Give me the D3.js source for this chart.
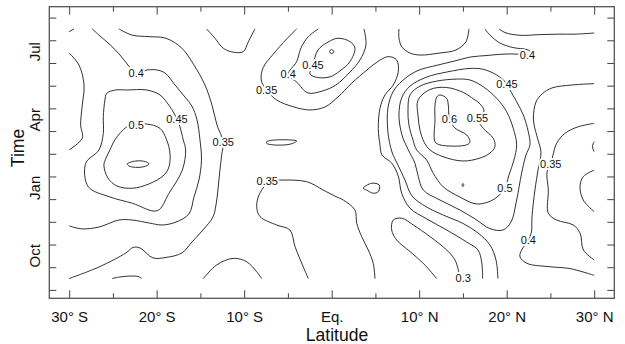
<!DOCTYPE html>
<html>
<head>
<meta charset="utf-8">
<script src="https://cdn.jsdelivr.net/npm/d3@7"></script>
<style>
    body { margin: 0; background: #fff; }
    svg { display: block; font-family: "Liberation Sans", Arial, Helvetica, sans-serif; }
    .contour { fill: none; stroke: #1a1a1a; stroke-width: 0.9px; }
    .clabel { font-size: 11px; fill: #111; stroke: #fff; stroke-width: 4px; stroke-linejoin: round; paint-order: stroke; }
    .axis path { display: none; }
    .axis line { stroke: #444; stroke-width: 1px; }
    .axis text { font-size: 15px; fill: #111; }
</style>
</head>
<body>
<div id="chart"></div>
<script>

/* * * * * * * * * * * * * *
*   contour lines (lat, month)   *
* * * * * * * * * * * * * */

// months run Sep (0) .. Aug (11); latitude in degrees, south negative
const monthNames = ["Sep", "Oct", "Nov", "Dec", "Jan", "Feb", "Mar", "Apr", "May", "Jun", "Jul", "Aug"];
const monthLabelIdx = [1, 4, 7, 10];
const latMajor = [-30, -20, -10, 0, 10, 20, 30];
const latMinor = [-25, -15, -5, 5, 15, 25];
const latLabels = ["30° S", "20° S", "10° S", "Eq.", "10° N", "20° N", "30° N"];

// southern maximum
const sh040Corner = [[-30, 10.88], [-29.45, 11]];
const sh040 = [[-27.36, 11], [-26.48, 10.69], [-25.34, 10.31], [-24.19, 9.85], [-23.28, 9.41], [-22.34, 9.04], [-21.11, 9.19], [-19.97, 9.19], [-19.05, 9.06], [-17.9, 8.53], [-16.77, 8.0], [-15.97, 7.6], [-15.39, 6.99], [-15.05, 6.11], [-14.88, 5.22], [-15.17, 4.34], [-15.74, 3.59], [-16.31, 2.85], [-17.79, 2.49], [-19.39, 2.36], [-20.88, 2.45], [-22.82, 2.58], [-24.31, 2.58], [-26.59, 2.27], [-28.54, 2.19], [-30, 2.32]];
const sh040Edge = [[-30, 9.94], [-28.88, 9.41], [-28.3, 8.53], [-28.5, 7.65], [-28.69, 6.77], [-28.5, 6.19], [-30, 5.67]];
const sh035 = [[-24.31, 11], [-22.82, 10.73], [-20.88, 10.66], [-18.94, 10.59], [-17.11, 10.15], [-15.74, 9.41], [-14.48, 8.53], [-13.68, 7.65], [-13.11, 6.77], [-12.4, 6.03], [-12.57, 5.44], [-12.77, 4.78], [-13.0, 3.9], [-13.22, 3.24], [-13.57, 2.71], [-14.71, 2.14], [-15.97, 1.61], [-17.11, 1.13], [-18.94, 0.93], [-20.42, 0.91], [-21.91, 1.35], [-22.71, 1.37], [-23.51, 1.13], [-26.59, 0.51], [-30, 0]];
const sh045 = [[-17.68, 7.03], [-17.34, 6.69], [-16.96, 6.11], [-16.69, 5.67], [-17.07, 4.78], [-18.59, 3.76], [-19.93, 2.99], [-22.79, 3.32], [-25.45, 3.61], [-27.82, 4.05], [-28.11, 5.08], [-26.59, 5.67], [-26.1, 6.4], [-26.1, 7.13], [-25.91, 7.87], [-25.71, 8.16], [-24.69, 8.31], [-23.43, 8.31], [-21.14, 8.31], [-19.62, 8.09], [-18.48, 7.57], [-18.1, 7.34]];
const sh050 = [[-22.34, 6.77], [-21.14, 6.81], [-19.62, 6.62], [-18.86, 6.11], [-18.48, 5.52], [-18.59, 4.93], [-19.16, 4.56], [-20.88, 4.17], [-22.79, 3.98], [-24.54, 4.08], [-25.57, 4.43], [-26.03, 5.0], [-25.79, 5.31], [-25.34, 5.67], [-24.77, 6.11], [-23.43, 6.68]];
const sh055 = [[-23.36, 5.05], [-22.4, 5.18], [-21.26, 5.15], [-20.88, 5.05], [-21.45, 4.93], [-22.4, 4.9], [-23.16, 4.96]];
const sh030 = [[-25.1, 0], [-24.2, 0.07], [-22.8, 0.11], [-22.1, 0.09], [-21.7, 0]];

// 15S - 5S minima
const s030Top = [[-14.29, 11], [-13.34, 10.59], [-12.39, 10.15], [-11.3, 9.98], [-10.1, 10.0], [-9.53, 10.43], [-8.77, 11]];
const s030Bottom = [[-14.67, 0], [-13.14, 0.6], [-11.25, 0.89], [-9.71, 0.74], [-8.57, 0.3], [-8.0, 0]];
const s030Spot = [[-7.43, 6.03], [-6.29, 6.11], [-4.0, 6.06], [-4.77, 5.92], [-6.67, 5.89], [-7.43, 5.96]];

// equatorial lines
const eq035Low = [[-2.67, 0], [-3.25, 0.52], [-4.19, 1.41], [-4.77, 2.14], [-6.29, 2.36], [-8.19, 2.73], [-8.57, 3.17], [-8.31, 3.68], [-7.62, 4.12], [-7.36, 4.31], [-5.91, 4.34], [-2.86, 4.27], [-0.96, 3.9], [0.49, 3.61], [1.33, 3.46], [2.66, 3.02], [2.86, 2.44], [3.43, 1.85], [4.18, 1.26], [4.75, 0.67], [4.95, 0]];
const eq030Spot = [[3.61, 3.98], [4.57, 4.2], [5.44, 4.12], [5.33, 3.83], [4.75, 3.76], [3.99, 3.9]];
const eq035 = [[-4.0, 11], [-5.14, 10.56], [-6.67, 9.89], [-7.82, 9.3], [-8.05, 8.75], [-7.43, 8.3], [-6.29, 7.87], [-4.39, 7.57], [-2.48, 7.43], [-0.77, 7.56], [0.72, 8.0], [2.32, 8.62], [4.03, 9.19], [5.18, 9.54], [6.47, 9.78], [7.43, 9.63], [7.61, 9.11], [7.04, 8.53], [6.09, 8.09], [5.52, 7.5], [5.33, 6.62], [5.52, 5.89], [5.75, 5.44], [6.86, 5.09], [7.61, 4.52], [8.0, 3.76], [8.95, 3.1], [10.86, 2.63], [13.14, 2.14], [15.43, 1.61], [16.72, 1.26], [17.14, 0.73], [17.26, 0]];
const eq040 = [[-1.53, 11], [-2.67, 10.66], [-3.51, 10.16], [-4.0, 9.56], [-4.96, 9.0], [-4.0, 8.66], [-2.71, 8.18], [-1.11, 8.26], [0.49, 8.53], [2.09, 9.1], [3.23, 9.63], [3.92, 10.29], [3.69, 11]];
const eq045 = [[-2.14, 9.41], [-1.57, 10.07], [-0.42, 10.42], [0.72, 10.59], [2.09, 10.44], [2.66, 10.16], [2.09, 9.56], [0.95, 9.15], [-0.19, 8.89], [-1.57, 8.86], [-2.48, 9.01]];
const eq050 = [[-0.25, 10.0], [0, 10.09], [0.25, 10.0], [0, 9.91]];

// northern maximum
const n035Top = [[7.69, 11], [7.69, 10.6], [8.03, 10.2], [8.95, 9.94], [10.09, 9.85], [12.38, 9.94], [14.2, 10.07], [15.34, 10.43], [15.69, 11]];
const n040 = [[17.52, 11], [18.09, 10.73], [19.23, 10.38], [20.72, 10.18], [22.32, 10.09], [22.89, 9.96], [23.12, 9.83], [22.78, 9.72], [22.38, 9.81], [21.18, 9.89], [19.58, 9.89], [17.75, 9.83], [15.81, 9.76], [14.09, 9.59], [12.15, 9.41], [9.75, 9.15], [8.03, 8.7], [7.0, 8.22], [6.43, 7.52], [6.43, 6.46], [6.89, 5.58], [7.58, 5.0], [8.38, 4.34], [9.18, 3.64], [10.86, 3.15], [12.75, 2.8], [15.0, 2.43], [16.72, 2.01], [18.09, 1.48], [18.78, 0.82], [19.0, 0]];
const n045 = [[20.03, 8.59], [20.38, 8.31], [21.14, 7.79], [21.9, 7.21], [22.47, 6.47], [22.66, 5.89], [22.2, 5.44], [21.71, 4.65], [21.14, 3.46], [20.49, 2.49], [19.58, 2.14], [18.09, 2.2], [16.49, 2.6], [14.66, 3.02], [12.38, 3.46], [10.47, 3.9], [9.9, 4.49], [9.52, 5.08], [8.76, 5.67], [8.03, 6.33], [7.69, 7.21], [8.0, 7.96], [8.95, 8.48], [10.86, 8.88], [13.14, 9.1], [15.81, 9.26], [17.33, 9.22], [18.86, 8.97]];
const n050 = [[19.81, 3.98], [18.89, 3.59], [17.86, 3.37], [16.49, 3.29], [14.66, 3.59], [12.75, 4.04], [11.61, 4.64], [10.86, 5.22], [9.71, 5.67], [9.29, 6.11], [8.83, 6.77], [8.72, 7.43], [8.95, 8.09], [10.09, 8.48], [12.0, 8.7], [14.29, 8.79], [15.81, 8.75], [17.33, 8.45], [18.86, 7.94], [20.0, 7.35], [20.75, 6.62], [21.14, 5.89], [20.83, 5.22], [20.26, 4.56]];
const n055 = [[16.66, 7.06], [17.33, 6.62], [18.47, 6.18], [18.66, 5.81], [18.09, 5.53], [16.95, 5.31], [15.0, 5.18], [12.72, 5.37], [11.23, 5.67], [10.55, 6.02], [10.09, 6.55], [9.86, 7.21], [9.86, 7.86], [11.23, 8.33], [13.14, 8.42], [15.04, 8.2], [16.26, 7.9], [16.95, 7.7], [17.41, 7.38]];
const n060 = [[13.46, 7.03], [14.09, 6.63], [15.43, 6.33], [15.81, 6.03], [15.43, 5.89], [12.38, 5.89], [11.81, 6.03], [11.81, 6.99], [11.81, 7.65], [12.03, 8.01], [12.38, 8.09], [13.14, 7.94], [13.33, 7.65]];
const n055Spot = [[14.9, 4.12], [15, 4.19], [15.1, 4.12], [15, 4.05]];
const n040Top = [[19.14, 11], [19.81, 10.84], [21.52, 10.72], [23.81, 10.75], [25.86, 10.77], [27.81, 10.77], [30, 10.82]];
const n040Right = [[30, 8.59], [27.46, 8.53], [25.18, 8.4], [24.03, 8.13], [23.35, 7.78], [23.06, 6.99], [23.58, 6.11], [23.92, 5.57], [23.58, 4.78], [23.23, 3.9], [22.89, 2.71], [22.83, 2.05], [22.47, 1.68], [21.71, 1.26], [21.52, 0.96], [22.32, 0.67], [24.95, 0.52], [27.23, 0.44], [30, 0.14]];
const n035Right = [[30, 6.84], [28.18, 6.69], [26.66, 6.4], [25.71, 5.96], [25.29, 5.44], [25.04, 5.06], [24.61, 4.7], [24.76, 3.9], [24.76, 2.88], [25.71, 2.58], [27.62, 2.36], [28.39, 2.0], [28.77, 1.26], [30, 0.82]];
const n030Right = [[30, 4.78], [28.75, 4.49], [28.38, 4.05], [28.75, 3.46], [30, 2.95]];
const n030Edge = [[30, 6.03], [29.8, 5.82], [30, 5.59]];
const n030 = [[12.0, 0], [10.47, 0.67], [8.95, 1.19], [7.43, 1.7], [6.86, 2.14], [7.04, 2.58], [8.0, 2.66], [9.33, 2.36], [11.23, 1.85], [13.14, 1.26], [14.09, 0.82], [14.47, 0.38], [14.66, 0]];

// open lines end on the data border, the rest are closed loops
const openLines = [sh040Corner, sh040, sh040Edge, sh035, sh030, s030Top, s030Bottom, eq035Low, eq035, eq040,
    n035Top, n040, n040Top, n040Right, n035Right, n030Right, n030Edge, n030];
const closedLines = [sh045, sh050, sh055, s030Spot, eq030Spot, eq045, eq050, n045, n050, n055, n060, n055Spot];

// contour labels: [value, lat, month]
const contourLabels = [
    [0.4, -22.34, 9.04], [0.45, -17.68, 7.03], [0.5, -22.34, 6.77], [0.35, -12.4, 6.03],
    [0.35, -7.43, 8.3], [0.4, -4.96, 9.0], [0.45, -2.14, 9.41], [0.35, -7.36, 4.31],
    [0.4, 22.38, 9.83], [0.45, 20.03, 8.59], [0.6, 13.46, 7.03], [0.55, 16.66, 7.06],
    [0.5, 19.81, 3.98], [0.35, 25.04, 5.06], [0.4, 22.47, 1.68], [0.3, 15.04, 0.01]
];


/* * * * * * * * * * * * * *
*          drawing          *
* * * * * * * * * * * * * */

const width = 625, height = 344;
const plot = {left: 49.3, right: 614.3, top: 6.7, bottom: 298.3};

let svg = d3.select("#chart").append("svg")
    .attr("width", width)
    .attr("height", height);

let x = d3.scaleLinear()
    .domain([-32.27, 32.3])
    .range([plot.left, plot.right]);

let y = d3.scaleLinear()
    .domain([-0.87, 11.98])
    .range([plot.bottom, plot.top]);

// contour lines
let line = d3.line()
    .x(d => x(d[0]))
    .y(d => y(d[1]))
    .curve(d3.curveCatmullRom);

let loop = d3.line()
    .x(d => x(d[0]))
    .y(d => y(d[1]))
    .curve(d3.curveCatmullRomClosed);

svg.append("g").selectAll("path.open")
    .data(openLines)
    .enter().append("path")
    .attr("class", "contour open")
    .attr("d", line);

svg.append("g").selectAll("path.closed")
    .data(closedLines)
    .enter().append("path")
    .attr("class", "contour closed")
    .attr("d", loop);

// labels sit on top of the lines, white halo breaks the line
svg.append("g").selectAll("text")
    .data(contourLabels)
    .enter().append("text")
    .attr("class", "clabel")
    .attr("x", d => x(d[1]))
    .attr("y", d => y(d[2]))
    .attr("dy", "0.36em")
    .attr("text-anchor", "middle")
    .text(d => d[0]);

// ticks, all pointing inwards
let halfMonths = d3.range(-0.5, 12, 1);

svg.append("g").attr("class", "axis")
    .attr("transform", `translate(0, ${plot.bottom})`)
    .call(d3.axisBottom(x).tickValues(latMajor).tickSize(-8).tickPadding(13)
        .tickFormat((d, i) => latLabels[i]));

svg.append("g").attr("class", "axis")
    .attr("transform", `translate(0, ${plot.bottom})`)
    .call(d3.axisBottom(x).tickValues(latMinor).tickSize(-5).tickFormat(""));

svg.append("g").attr("class", "axis")
    .attr("transform", `translate(0, ${plot.top})`)
    .call(d3.axisTop(x).tickValues(latMajor).tickSize(-8).tickFormat(""));

svg.append("g").attr("class", "axis")
    .attr("transform", `translate(0, ${plot.top})`)
    .call(d3.axisTop(x).tickValues(latMinor).tickSize(-5).tickFormat(""));

svg.append("g").attr("class", "axis")
    .attr("transform", `translate(${plot.left}, 0)`)
    .call(d3.axisLeft(y).tickValues(halfMonths).tickSize(-7).tickFormat(""));

svg.append("g").attr("class", "axis")
    .attr("transform", `translate(${plot.right}, 0)`)
    .call(d3.axisRight(y).tickValues(halfMonths).tickSize(-7).tickFormat(""));

// month names, turned on their side
svg.append("g").selectAll("text")
    .data(monthLabelIdx)
    .enter().append("text")
    .attr("transform", d => `translate(39.5, ${y(d)}) rotate(-90)`)
    .attr("text-anchor", "middle")
    .attr("font-size", "15px")
    .attr("fill", "#111")
    .text(d => monthNames[d]);

// frame
svg.append("rect")
    .attr("x", plot.left)
    .attr("y", plot.top)
    .attr("width", plot.right - plot.left)
    .attr("height", plot.bottom - plot.top)
    .attr("fill", "none")
    .attr("stroke", "#555")
    .attr("stroke-width", 1.3);

// axis titles
svg.append("text")
    .attr("x", 337)
    .attr("y", 341)
    .attr("text-anchor", "middle")
    .attr("font-size", "17.5px")
    .attr("fill", "#111")
    .text("Latitude");

svg.append("text")
    .attr("transform", "translate(23.5, 148) rotate(-90)")
    .attr("text-anchor", "middle")
    .attr("font-size", "17.5px")
    .attr("fill", "#111")
    .text("Time");

</script>
</body>
</html>
